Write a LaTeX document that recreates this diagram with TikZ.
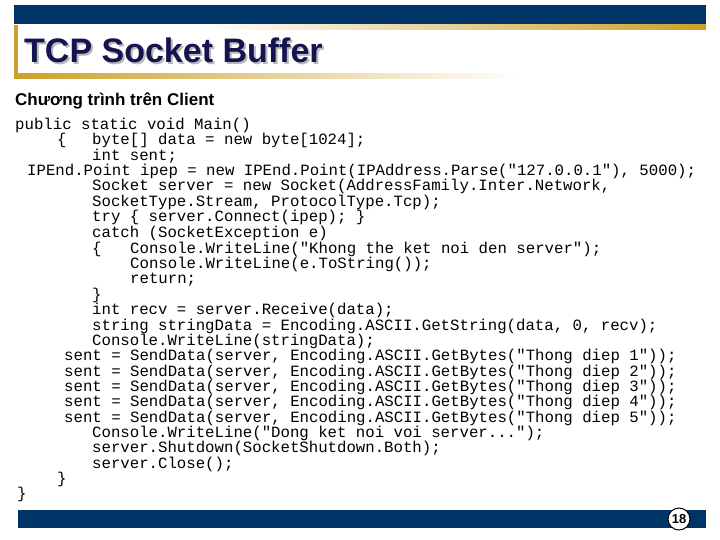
\documentclass[tikz,border=0pt]{standalone}
\usepackage{fontspec}
\setmainfont{Liberation Sans}
\newfontfamily\codefont{Liberation Mono}
\definecolor{navy}{RGB}{0,51,102}
\definecolor{gold}{RGB}{205,160,40}
\definecolor{titlecol}{RGB}{20,20,80}
\begin{document}
\begin{tikzpicture}[x=1pt,y=-1pt,
  code/.style={anchor=base west,inner sep=0pt,font=\codefont\fontsize{15.7}{16}\selectfont},
  bar/.style={fill=navy,draw=none}]
\useasboundingbox (0,0) rectangle (720,540);
% header
\fill[bar] (14,5) rectangle (706,24);
\shade[left color=white,right color=gold] (200,25) rectangle (706,30);
\shade[left color=gold,right color=white] (14,74) rectangle (520,79);
\fill[gold] (14,25) rectangle (18,79);
\node[anchor=base west,inner sep=0pt,font=\bfseries\fontsize{34}{34}\selectfont,text=titlecol] (title) at (24,63)
  {\makebox[0pt][l]{\hspace{2pt}\raisebox{-2pt}{\textcolor{gray!55}{TCP Socket Buffer}}}TCP Socket Buffer};
\node[anchor=base west,inner sep=0pt,font=\bfseries\fontsize{17}{17}\selectfont] (sub) at (15,106) {Chương trình trên Client};
% code
\node[code] (l1) at (15,130) {public static void Main()};
\node[code] (l2) at (57,145) {\{};
\node[code] (l2b) at (92,145) {byte[] data = new byte[1024];};
\node[code] (l3) at (92,161) {int sent;};
\node[code] (l4) at (27,176) {IPEnd.Point ipep = new IPEnd.Point(IPAddress.Parse("127.0.0.1"), 5000);};
\node[code] (l5) at (92,191) {Socket server = new Socket(AddressFamily.Inter.Network,};
\node[code] (l6) at (92,207) {SocketType.Stream, ProtocolType.Tcp);};
\node[code] (l7) at (92,222) {try \{ server.Connect(ipep); \}};
\node[code] (l8) at (92,237) {catch (SocketException e)};
\node[code] (l9) at (92,253) {\{};
\node[code] (l9b) at (130,253) {Console.WriteLine("Khong the ket noi den server");};
\node[code] (l10) at (130,268) {Console.WriteLine(e.ToString());};
\node[code] (l11) at (130,283) {return;};
\node[code] (l12) at (92,299) {\}};
\node[code] (l13) at (92,314) {int recv = server.Receive(data);};
\node[code] (l14) at (92,330) {string stringData = Encoding.ASCII.GetString(data, 0, recv);};
\node[code] (l15) at (92,345) {Console.WriteLine(stringData);};
\foreach \i/\y in {1/360,2/376,3/391,4/406,5/422}
  \node[code] (s\i) at (64,\y) {sent = SendData(server, Encoding.ASCII.GetBytes("Thong diep \i"));};
\node[code] (l21) at (92,437) {Console.WriteLine("Dong ket noi voi server...");};
\node[code] (l22) at (92,452) {server.Shutdown(SocketShutdown.Both);};
\node[code] (l23) at (92,468) {server.Close();};
\node[code] (l24) at (57,483) {\}};
\node[code] (l25) at (17,498) {\}};
% footer
\fill[bar] (18,510) rectangle (706,528);
\node[circle,draw=black,line width=1pt,fill=white,inner sep=1pt,minimum size=22pt,font=\bfseries\fontsize{13}{13}\selectfont] (page) at (679,519) {18};
\end{tikzpicture}
\end{document}
